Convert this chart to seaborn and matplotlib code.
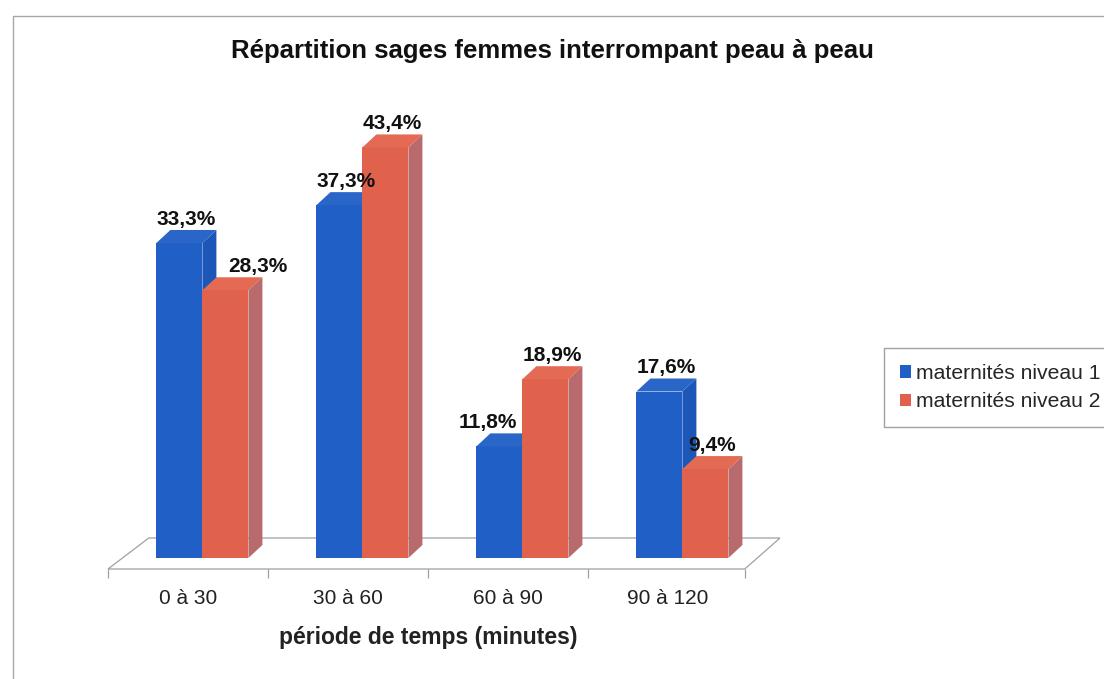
import matplotlib

matplotlib.use("Agg")
import matplotlib.pyplot as plt
from matplotlib.patches import Polygon, Rectangle, Patch
import pandas as pd
import seaborn as sns

periodes = ["0 à 30", "30 à 60", "60 à 90", "90 à 120"]
niveau_1 = [33.3, 37.3, 11.8, 17.6]
niveau_2 = [28.3, 43.4, 18.9, 9.4]
series = ["maternités niveau 1", "maternités niveau 2"]

df = pd.DataFrame({
    "periode": periodes * 2,
    "pct": niveau_1 + niveau_2,
    "niveau": [series[0]] * 4 + [series[1]] * 4,
})

sns.set_theme(style="white")
plt.rcParams["font.family"] = ["Liberation Sans", "DejaVu Sans"]

FRONT = ["#2060c6", "#e0624c"]
SIDE = ["#1c56b6", "#b86a6c"]
TOP = ["#2a66c8", "#e46a54"]

W, H = 1104, 679
fig = plt.figure(figsize=(W / 100, H / 100), dpi=100)
fig.patch.set_facecolor("white")

# axes: x from 108px to 748px, value 0 at y=558px, 9.46px per percent
ppx = 9.46
ymax = 46
ax = fig.add_axes([108 / W, (H - 558) / H, 640 / W, ymax * ppx / H])
ax.set_facecolor("none")

sns.barplot(data=df, x="periode", y="pct", hue="niveau", palette=FRONT,
            width=0.575, saturation=1, legend=False, ax=ax,
            edgecolor="none", linewidth=0)
ax.set_xlim(-0.5, 3.5)
ax.set_ylim(0, ymax)

# pseudo 3D depth
shift = 0.09
dx = 14 / 160
dy = 13 / ppx
# label nudges (px) where the original chart moved labels apart
nudge = {(0, 2): -19, (1, 0): 25}
for s, cont in enumerate(ax.containers):
    z = 2 + s
    for i, p in enumerate(cont):
        p.set_x(p.get_x() + shift)
        p.set_zorder(z)
        x0, w, h = p.get_x(), p.get_width(), p.get_height()
        side = [(x0 + w, 0), (x0 + w + dx, dy), (x0 + w + dx, h + dy), (x0 + w, h)]
        top = [(x0, h), (x0 + dx, h + dy), (x0 + w + dx, h + dy), (x0 + w, h)]
        ax.add_patch(Polygon(side, closed=True, facecolor=SIDE[s], edgecolor="none", zorder=z))
        ax.add_patch(Polygon(top, closed=True, facecolor=TOP[s], edgecolor="none", zorder=z))
        xt = x0 + w / 2 + dx / 2 + nudge.get((s, i), 0) / 160
        ax.text(xt, h + dy + 0.15, f"{h:.1f}%".replace(".", ","),
                ha="center", va="bottom", fontsize=15, fontweight="bold",
                color="#111111", zorder=6)

# floor
yf = -11 / ppx
yb = 20 / ppx
floor = [(-0.5, yf), (3.48, yf), (3.7, yb), (-0.245, yb)]
ax.add_patch(Polygon(floor, closed=True, facecolor="white", edgecolor="#a0a0a0",
                     linewidth=0.9, zorder=1, clip_on=False))
ax.vlines([-0.5, 0.5, 1.5, 2.5, 3.48], yf - 9 / ppx, yf, color="#a0a0a0",
          linewidth=0.9, clip_on=False)

for sp in ax.spines.values():
    sp.set_visible(False)
ax.set_yticks([])
ax.set_xticks(range(len(periodes)))
ax.set_xticklabels(periodes, fontsize=15, color="#222222")
ax.tick_params(axis="x", length=0, pad=22)
ax.set_ylabel("")
ax.set_xlabel("période de temps (minutes)", fontsize=16.5, fontweight="bold",
              color="#222222", labelpad=13)

fig.text(552 / W, 1 - 51 / H, "Répartition sages femmes interrompant peau à peau",
         ha="center", va="center", fontsize=18.5, fontweight="bold", color="#111111")

handles = [Patch(facecolor=FRONT[0], edgecolor="none"),
           Patch(facecolor=FRONT[1], edgecolor="none")]
leg = fig.legend(handles, series, loc="upper left", bbox_to_anchor=(884 / W, 1 - 348 / H),
                 fontsize=15.2, frameon=True, fancybox=False, edgecolor="#8a8a8a",
                 handlelength=0.55, handleheight=0.55, handletextpad=0.2,
                 borderpad=0.75, labelspacing=0.45, borderaxespad=0)
leg.get_frame().set_linewidth(1.0)

# outer chart border
fig.add_artist(Rectangle((13 / W, -0.05), 1.2, 1.05 - 16 / H, transform=fig.transFigure,
                         facecolor="none", edgecolor="#a8a8a8", linewidth=1.0))

fig.savefig("out.png", dpi=100)
